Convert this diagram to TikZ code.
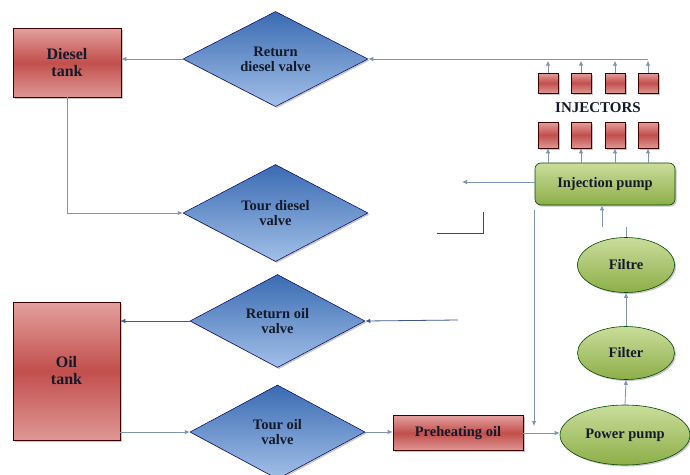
\documentclass[tikz,border=0pt]{standalone}
\usepackage{fontspec}
\setmainfont{Liberation Serif}
\usetikzlibrary{shapes.geometric,arrows.meta,shadows}
\definecolor{conn}{HTML}{7F93B5}
\definecolor{navy}{HTML}{2F4A86}
\definecolor{txt}{HTML}{141A2A}
\definecolor{redtop}{HTML}{E3A09E}
\definecolor{redmid}{HTML}{C24F4C}
\definecolor{redbot}{HTML}{DE9795}
\definecolor{bluetop}{HTML}{3A6BB2}
\definecolor{bluebot}{HTML}{A2C0E8}
\definecolor{greentop}{HTML}{CADD9C}
\definecolor{greenbot}{HTML}{8DAE48}
\tikzset{
  lbl/.style={font=\fontsize{14.5}{15}\selectfont\bfseries, text=txt, align=center},
  redbox/.style={rectangle, draw=black!75!red, line width=0.6pt, top color=redtop, bottom color=redbot, middle color=redmid, inner sep=0pt, drop shadow={opacity=0.45,shadow xshift=1.5pt,shadow yshift=-1.5pt}},
  valve/.style={diamond, draw=blue!40!black, line width=0.5pt, top color=bluetop, bottom color=bluebot, inner sep=0pt, lbl, drop shadow={opacity=0.45,shadow xshift=1.5pt,shadow yshift=-1.5pt}},
  greenshape/.style={draw=green!30!black, line width=0.6pt, top color=greentop, bottom color=greenbot, inner sep=0pt, lbl, drop shadow={opacity=0.45,shadow xshift=1.5pt,shadow yshift=-1.5pt}},
  oval/.style={ellipse, greenshape},
  injbox/.style={redbox, minimum width=20pt, minimum height=20pt},
  conline/.style={draw=conn, line width=0.8pt},
  arr/.style={conline, -{Latex[length=5pt,width=4.5pt]}},
}
\begin{document}
\begin{tikzpicture}[x=1pt,y=-1pt]
\useasboundingbox (0,0) rectangle (690,474);
% tanks
\node[redbox, lbl, minimum width=108pt, minimum height=69pt, font=\fontsize{16}{17}\selectfont\bfseries] (dt) at (67,62.5) {Diesel\\tank};
\node[redbox, lbl, minimum width=107pt, minimum height=138pt, font=\fontsize{16}{17}\selectfont\bfseries] (ot) at (66.5,371) {Oil\\tank};
% valves
\node[valve, minimum width=185pt, minimum height=92pt] (rdv) at (275.5,59) {Return\\diesel valve};
\node[valve, minimum width=185pt, minimum height=97pt] (tdv) at (275.5,213) {Tour diesel\\valve};
\node[valve, minimum width=175pt, minimum height=93pt] (rov) at (277.5,321) {Return oil\\valve};
\node[valve, minimum width=175pt, minimum height=94pt] (tov) at (277.5,432) {Tour oil\\valve};
% preheating
\node[redbox, lbl, minimum width=130pt, minimum height=35pt] (ph) at (458,433) {Preheating oil};
% green chain
\node[oval, minimum width=130pt, minimum height=60pt] (pp) at (625,435) {Power pump};
\node[oval, minimum width=97pt, minimum height=53pt] (fi) at (626,353) {Filter};
\node[oval, minimum width=97pt, minimum height=55pt] (ft) at (626,265) {Filtre};
\node[rectangle, rounded corners=6pt, greenshape, minimum width=140pt, minimum height=42pt] (ip) at (605,184) {Injection pump};
% injectors
\node[injbox] (u1) at (548,83) {};
\node[injbox] (u2) at (581,83) {};
\node[injbox] (u3) at (615,83) {};
\node[injbox] (u4) at (648,83) {};
\node[injbox, minimum height=26pt] (l1) at (548,135) {};
\node[injbox, minimum height=26pt] (l2) at (581,135) {};
\node[injbox, minimum height=26pt] (l3) at (615,135) {};
\node[injbox, minimum height=26pt] (l4) at (648,135) {};
\node[lbl, font=\fontsize{15}{16}\selectfont\bfseries] (injlbl) at (598,108) {INJECTORS};
% connectors: injectors
\foreach \i in {1,2,3,4} {
  \draw[arr] (ip.north -| l\i) -- (l\i.south);
  \draw[arr] (u\i.north) -- ++(0,-12);
}
\draw[arr] (u4.north |- rdv.east) -- (rdv.east);
\draw[arr] (rdv.west) -- (dt.east |- rdv.west);
\draw[arr] (dt.south) |- (tdv.west);
% injection pump outlet
\coordinate (ipfree) at (462,182);
\draw[arr] (ip.west |- ipfree) -- (ipfree);
% L shape
\coordinate (la) at (437,233);
\coordinate (lb) at (483,233);
\coordinate (lc) at (483,212);
\draw[navy, line width=0.9pt] (la) -- (lb) -- (lc);
% vertical return line
\coordinate (vtop) at (534,210);
\coordinate (vbot) at (534,426);
\draw[arr] (vtop) -- (vbot);
% oil side
\coordinate (rofree) at (458,320);
\draw[arr, draw=navy!80!conn] (rofree) -- (rov.east);
\draw[arr, draw=navy!80!conn] (rov.west) -- (ot.east |- rov.west);
\draw[arr] (ot.east |- tov.west) -- (tov.west);
\draw[arr] (tov.east) -- (ph.west |- tov.east);
\draw[arr] (ph.east) -- (pp.west |- ph.east);
\draw[arr] (pp.north) -- (fi.south);
\draw[arr] (fi.north) -- (ft.south);
\coordinate (ftup) at (626,227);
\draw[conline] (ft.north) -- (ftup);
\coordinate (ipin) at (602,227);
\draw[arr] (ipin) -- (ip.south -| ipin);
\end{tikzpicture}
\end{document}
